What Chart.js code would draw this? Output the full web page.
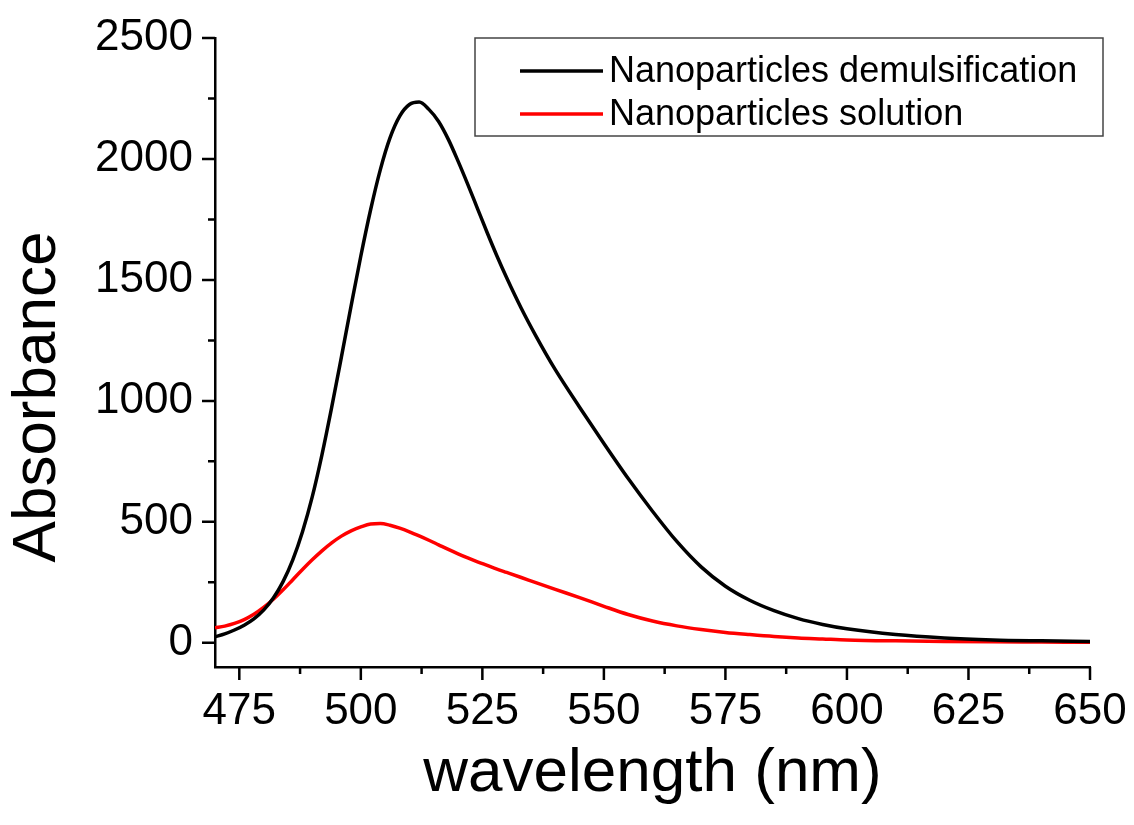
<!DOCTYPE html>
<html>
<head>
<meta charset="utf-8">
<script src="https://cdn.jsdelivr.net/npm/chart.js@4.4.1/dist/chart.umd.min.js"></script>
<style>
    html, body { margin: 0; padding: 0; background: #ffffff; }
    #wrap { width: 1134px; height: 825px; }
</style>
</head>
<body>
<div id="wrap"><canvas id="spectrumChart" width="1134" height="825"></canvas></div>
<script>
// Wavelength grid (nm) shared by both spectra
const wavelengths = [470, 472, 474, 476, 478, 480, 482, 484, 486, 488, 490, 492, 494, 496, 498, 500,
    502, 504, 506, 508, 510, 512, 514, 516, 518, 520, 522, 524, 526, 528, 530, 533, 536, 540, 545, 550,
    555, 560, 565, 570, 575, 580, 585, 590, 595, 600, 610, 620, 630, 640, 650];

// Nanoparticles demulsification (black)
const demulsificationAbs = [25, 37, 53, 73, 99, 135, 185, 253, 343, 459, 603, 777, 973, 1181, 1393, 1599,
    1789, 1955, 2087, 2177, 2225, 2235, 2205, 2155, 2081, 1991, 1895, 1795, 1695, 1599, 1509, 1383, 1269, 1129, 974, 824,
    679, 544, 419, 314, 234, 176, 133, 100, 76, 58, 34, 20, 12, 8, 5];

// Nanoparticles solution (red)
const solutionAbs = [62, 69, 80, 96, 118, 146, 180, 219, 261, 303, 343, 380, 413, 441, 463, 479,
    491, 493, 486, 474, 459, 442, 424, 405, 386, 368, 351, 335, 320, 305, 291, 270, 249, 221, 187, 151,
    117, 90, 70, 55, 43, 34, 26, 20, 16, 12, 8, 5.5, 4, 3, 2];

const seriesLabels = ['Nanoparticles demulsification', 'Nanoparticles solution'];
const seriesColors = ['#000000', '#ff0000'];

// Axis ticks (major get labels, minor are short marks only)
const xMajorTicks = [475, 500, 525, 550, 575, 600, 625, 650];
const xMinorTicks = [487.5, 512.5, 537.5, 562.5, 587.5, 612.5, 637.5];
const yMajorTicks = [0, 500, 1000, 1500, 2000, 2500];
const yMinorTicks = [250, 750, 1250, 1750, 2250];

const yTitle = 'Absorbance';
const xTitle = 'wavelength (nm)';

const fontFamily = '"Liberation Sans", Arial, sans-serif';
let spectrumChart;

document.addEventListener('DOMContentLoaded', function() {
    initializeChart();
});

// Draw outward tick marks from the scales (major long, minor short)
const tickMarksPlugin = {
    id: 'tickMarks',
    afterDraw(chart) {
        const ctx = chart.ctx;
        const xs = chart.scales.x;
        const ys = chart.scales.y;
        const area = chart.chartArea;
        ctx.save();
        ctx.strokeStyle = '#000';
        ctx.lineWidth = 2.5;
        ctx.beginPath();
        xMajorTicks.forEach(v => {
            const px = xs.getPixelForValue(v);
            ctx.moveTo(px, area.bottom); ctx.lineTo(px, area.bottom + 13);
        });
        xMinorTicks.forEach(v => {
            const px = xs.getPixelForValue(v);
            ctx.moveTo(px, area.bottom); ctx.lineTo(px, area.bottom + 7);
        });
        yMajorTicks.forEach(v => {
            const py = ys.getPixelForValue(v);
            ctx.moveTo(area.left, py); ctx.lineTo(area.left - 13, py);
        });
        yMinorTicks.forEach(v => {
            const py = ys.getPixelForValue(v);
            ctx.moveTo(area.left, py); ctx.lineTo(area.left - 7, py);
        });
        ctx.stroke();

        // y axis title, rotated
        ctx.fillStyle = '#000';
        ctx.font = '62px ' + fontFamily;
        ctx.textAlign = 'center';
        ctx.textBaseline = 'middle';
        ctx.translate(38, 397);
        ctx.rotate(-Math.PI / 2);
        ctx.fillText(yTitle, 0, 0);
        ctx.restore();
    }
};

// Boxed legend in the upper right of the plot
const boxLegendPlugin = {
    id: 'boxLegend',
    afterDraw(chart) {
        const ctx = chart.ctx;
        const area = chart.chartArea;
        const boxLeft = area.left + 260;
        const boxTop = area.top;
        const boxRight = area.right + 13;
        const boxBottom = area.top + 98;
        ctx.save();
        ctx.strokeStyle = '#444';
        ctx.lineWidth = 1.5;
        ctx.strokeRect(boxLeft, boxTop, boxRight - boxLeft, boxBottom - boxTop);
        ctx.font = '36px ' + fontFamily;
        ctx.textBaseline = 'middle';
        ctx.fillStyle = '#000';
        chart.data.datasets.forEach((ds, i) => {
            const y = boxTop + 33 + i * 43;
            ctx.strokeStyle = ds.borderColor;
            ctx.lineWidth = 3.5;
            ctx.beginPath();
            ctx.moveTo(boxLeft + 45, y);
            ctx.lineTo(boxLeft + 128, y);
            ctx.stroke();
            ctx.fillText(ds.label, boxLeft + 134, y + 1);
        });
        ctx.restore();
    }
};

function buildPoints(values) {
    return wavelengths.map((w, i) => ({ x: w, y: values[i] }));
}

function initializeChart() {
    const ctx = document.getElementById('spectrumChart').getContext('2d');

    spectrumChart = new Chart(ctx, {
        type: 'line',
        data: {
            datasets: [
                {
                    label: seriesLabels[0],
                    data: buildPoints(demulsificationAbs),
                    borderColor: seriesColors[0],
                    borderWidth: 3.5,
                    pointRadius: 0,
                    cubicInterpolationMode: 'monotone',
                    fill: false
                },
                {
                    label: seriesLabels[1],
                    data: buildPoints(solutionAbs),
                    borderColor: seriesColors[1],
                    borderWidth: 3.5,
                    pointRadius: 0,
                    cubicInterpolationMode: 'monotone',
                    fill: false
                }
            ]
        },
        options: {
            responsive: false,
            animation: false,
            layout: {
                padding: { top: 38, right: 44, left: 0, bottom: 0 }
            },
            scales: {
                x: {
                    type: 'linear',
                    min: 470,
                    max: 650,
                    afterBuildTicks: scale => {
                        scale.ticks = xMajorTicks.map(v => ({ value: v }));
                    },
                    afterFit: scale => {
                        scale.height = 158;
                        scale.paddingLeft = 0;
                        scale.paddingRight = 0;
                    },
                    grid: { display: false },
                    border: { display: true, color: '#000', width: 2.5 },
                    ticks: {
                        color: '#000',
                        padding: 10,
                        maxRotation: 0,
                        callback: value => String(value),
                        font: { family: fontFamily, size: 44 }
                    },
                    title: {
                        display: true,
                        text: xTitle,
                        color: '#000',
                        padding: { top: 0, bottom: 14 },
                        font: { family: fontFamily, size: 62 }
                    }
                },
                y: {
                    min: -100,
                    max: 2500,
                    afterBuildTicks: scale => {
                        scale.ticks = yMajorTicks.map(v => ({ value: v }));
                    },
                    afterFit: scale => {
                        scale.width = 215;
                        scale.paddingTop = 0;
                        scale.paddingBottom = 0;
                    },
                    grid: { display: false },
                    border: { display: true, color: '#000', width: 2.5 },
                    ticks: {
                        color: '#000',
                        padding: 14,
                        callback: value => String(value),
                        font: { family: fontFamily, size: 44 }
                    }
                }
            },
            plugins: {
                legend: { display: false },
                tooltip: { enabled: false }
            }
        },
        plugins: [tickMarksPlugin, boxLegendPlugin]
    });
}
</script>
</body>
</html>
